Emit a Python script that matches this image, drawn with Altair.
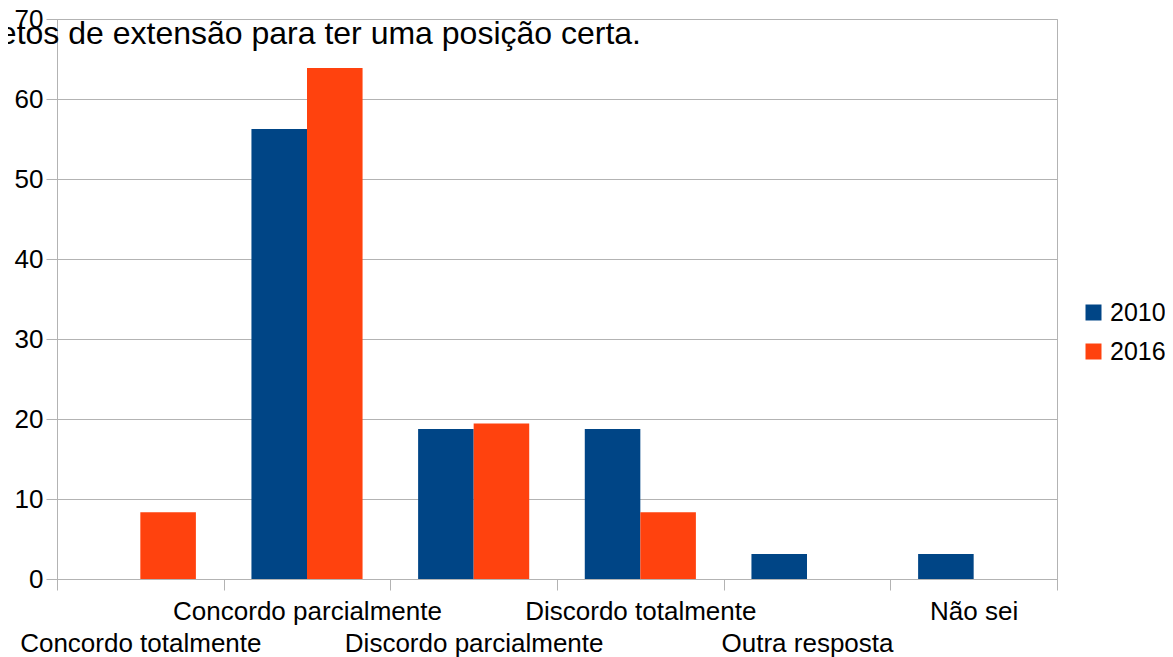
import altair as alt
import pandas as pd

categories = ["Concordo totalmente", "Concordo parcialmente", "Discordo parcialmente",
              "Discordo totalmente", "Outra resposta", "Não sei"]
years = ["2010", "2016"]
values_2010 = [0, 56.25, 18.75, 18.75, 3.125, 3.125]
values_2016 = [8.33, 63.89, 19.44, 8.33, 0, 0]
title_text = "etos de extensão para ter uma posição certa."
colors = ["#004586", "#ff420e"]

rows = []
for c, v in zip(categories, values_2010):
    rows.append({"cat": c, "year": "2010", "value": v})
for c, v in zip(categories, values_2016):
    rows.append({"cat": c, "year": "2016", "value": v})
df = pd.DataFrame(rows)

FONT = "Liberation Sans"
GRID = "#b3b3b3"
lower = ["Concordo totalmente", "Discordo parcialmente", "Outra resposta"]
lower_js = "[" + ",".join("'" + s + "'" for s in lower) + "]"

bars = alt.Chart(df).mark_bar().encode(
    x=alt.X("cat:N", sort=categories, title=None,
            scale=alt.Scale(paddingInner=0, paddingOuter=0),
            axis=alt.Axis(labelAngle=0, tickBand="extent", tickSize=11, tickColor=GRID,
                          domainColor=GRID, labelFont=FONT, labelFontSize=26,
                          labelColor="#000000", labelBaseline="top", labelLineHeight=32,
                          labelPadding=8, labelLimit=0,
                          labelExpr="indexof(" + lower_js + ", datum.value) >= 0 ? ['', datum.label] : datum.label")),
    xOffset=alt.XOffset("year:N", sort=years,
                        scale=alt.Scale(paddingInner=0, paddingOuter=0.5)),
    y=alt.Y("value:Q", title=None,
            scale=alt.Scale(domain=[0, 70], nice=False),
            axis=alt.Axis(values=[0, 10, 20, 30, 40, 50, 60, 70], tickSize=11, tickColor=GRID,
                          domainColor=GRID, gridColor=GRID, labelFont=FONT, labelFontSize=26,
                          labelColor="#000000", labelPadding=3)),
    color=alt.Color("year:N", sort=years, title=None,
                    scale=alt.Scale(domain=years, range=colors),
                    legend=alt.Legend(orient="none", legendX=1024, legendY=281,
                                      symbolType="square", symbolSize=256,
                                      symbolStrokeWidth=0, labelFont=FONT,
                                      labelFontSize=25, labelColor="#000000",
                                      labelOffset=4, rowPadding=13, padding=0)),
)

title = alt.Chart(pd.DataFrame({"t": [title_text]})).mark_text(
    align="right", baseline="alphabetic", font=FONT, fontSize=32, color="#000000"
).encode(x=alt.value(584), y=alt.value(25), text="t:N")

chart = alt.layer(bars, title).properties(
    width=1000, height=560,
    autosize=alt.AutoSizeParams(type="none"),
    padding={"left": 49, "top": 11, "right": 108, "bottom": 78},
).configure_view(stroke=GRID).configure_axis(labelFont=FONT)

chart.save("out.html", embed_options={"renderer": "svg", "actions": False})
